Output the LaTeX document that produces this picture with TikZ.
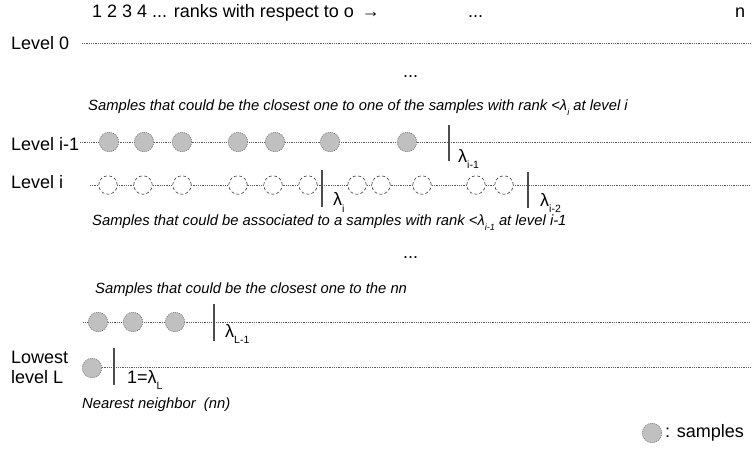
\documentclass[tikz,border=0pt]{standalone}
\usepackage{fontspec}
\setmainfont{Liberation Sans}
\definecolor{smpgray}{RGB}{192,192,192}
\newcommand{\bigsub}[1]{\raisebox{-6.5pt}{\fontsize{10.5}{10.5}\selectfont #1}}
\newcommand{\notesub}[1]{\raisebox{-5pt}{\fontsize{9}{9}\selectfont #1}}
\begin{document}
\begin{tikzpicture}[x=1pt,y=-1pt,
  txt/.style={inner sep=0pt, anchor=base west, font=\fontsize{18}{21}\selectfont},
  note/.style={inner sep=0pt, anchor=base west, font=\fontsize{14.8}{17}\selectfont\itshape},
  lam/.style={inner sep=0pt, anchor=base west, font=\fontsize{18}{21}\selectfont},
  lvl/.style={draw=black!65, line width=0.6pt, dash pattern=on 0.9pt off 0.9pt},
  bar/.style={draw=black!70, line width=1.3pt},
  smp/.style={circle, minimum size=19.5pt, inner sep=0pt, fill=smpgray,
    draw=black!55, line width=0.6pt, dash pattern=on 1pt off 1pt},
  cand/.style={circle, minimum size=18.5pt, inner sep=0pt, fill=white,
    draw=black!75, line width=0.6pt, dash pattern=on 3pt off 2.2pt}
]
\useasboundingbox (0,0) rectangle (753,448);

% rank axis
\node[txt] (ranks) at (92,17.5) {1 2 3 4 ... ranks with respect to o \,→};
\node[txt] (rdots) at (468,17.5) {...};
\node[txt] (rn) at (735,17.5) {n};

% level lines
\coordinate (l0s) at (82,43);   \coordinate (l0e) at (750,43);
\coordinate (l1s) at (80,142);  \coordinate (l1e) at (750,142);
\coordinate (l2s) at (90,185);  \coordinate (l2e) at (750,185);
\coordinate (l3s) at (83,322);  \coordinate (l3e) at (750,322);
\coordinate (l4s) at (100,367); \coordinate (l4e) at (750,367);
\draw[lvl] (l0s) -- (l0e);
\draw[lvl] (l1s) -- (l1e);
\draw[lvl] (l2s) -- (l2e);
\draw[lvl] (l3s) -- (l3e);
\draw[lvl] (l4s) -- (l4e);

% level labels
\node[txt] (lv0) at (11,49) {Level 0};
\node[txt] (lv1) at (11,150) {Level i-1};
\node[txt] (lv2) at (11,188) {Level i};
\node[txt] (lv3) at (11,363) {Lowest};
\node[txt] (lv4) at (11,383) {level L};

% ellipses between levels
\node[txt] (mdots1) at (403,77) {...};
\node[txt] (mdots2) at (403,258) {...};

% notes
\node[note] (n1) at (88,110) {Samples that could be the closest one to one of the samples with rank <λ\notesub{i} at level i};
\node[note] (n2) at (92,225) {Samples that could be associated to a samples with rank <λ\notesub{i-1} at level i-1};
\node[note] (n3) at (95,293) {Samples that could be the closest one to the nn};
\node[note] (n4) at (82,408) {Nearest neighbor \ (nn)};

% samples at level i-1
\foreach \x [count=\k] in {109,144,182,238,275,330,407}
  \node[smp] (a\k) at (\x,142) {};
% candidates at level i
\foreach \x [count=\k] in {108,143,182,238,273,308,357,381,422,476,504}
  \node[cand] (b\k) at (\x,185) {};
% samples at level L-1 and L
\foreach \x [count=\k] in {98,133,175}
  \node[smp] (c\k) at (\x,322) {};
\node[smp] (d1) at (92,368) {};

% rank thresholds
\coordinate (t1a) at (449,125); \coordinate (t1b) at (449,161);
\coordinate (t2a) at (322,170); \coordinate (t2b) at (322,207);
\coordinate (t3a) at (528,172); \coordinate (t3b) at (528,208);
\coordinate (t4a) at (214,304); \coordinate (t4b) at (214,341);
\coordinate (t5a) at (114,348); \coordinate (t5b) at (114,385);
\draw[bar] (t1a) -- (t1b);
\draw[bar] (t2a) -- (t2b);
\draw[bar] (t3a) -- (t3b);
\draw[bar] (t4a) -- (t4b);
\draw[bar] (t5a) -- (t5b);

\node[lam] (lam1) at (458,162) {λ\bigsub{i-1}};
\node[lam] (lam2) at (333,205.5) {λ\bigsub{i}};
\node[lam] (lam3) at (540,206) {λ\bigsub{i-2}};
\node[lam] (lam4) at (225,337) {λ\bigsub{L-1}};
\node[lam] (lam5) at (127,383) {1=λ\bigsub{L}};

% legend
\node[smp] (key) at (652,433) {};
\node[txt] (keytxt) at (665,437.5) {: samples};
\end{tikzpicture}
\end{document}
